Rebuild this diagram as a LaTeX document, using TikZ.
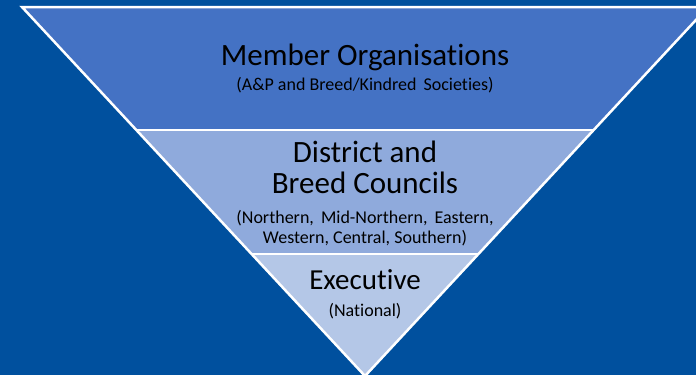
\documentclass[tikz,border=0pt]{standalone}
\usepackage{fontspec}
\setmainfont{Carlito}[Ligatures=NoCommon]
\usepackage{tikz}
\usetikzlibrary{positioning,calc}
\definecolor{navy}{RGB}{0,80,158}
\definecolor{bandtop}{RGB}{68,114,196}
\definecolor{bandmid}{RGB}{143,170,220}
\definecolor{bandlow}{RGB}{180,199,231}

\begin{document}
\begin{tikzpicture}[x=1pt, y=-1pt,
  edge/.style={draw=white, line width=2.5pt, line join=miter},
  head/.style={font=\fontsize{31}{31}\selectfont, anchor=base, inner sep=0pt},
  sub/.style={font=\fontsize{18}{20}\selectfont, anchor=base, inner sep=0pt}
]
  \useasboundingbox (0,0) rectangle (696,375);
  \fill[navy] (0,0) rectangle (696,375);

  \begin{scope}
    \clip (0,0) rectangle (696,375);
    % corners of the triangle and of its bands
    \coordinate (tl) at (22,7);
    \coordinate (tr) at (708,7);
    \coordinate (ap) at (365,376);
    \coordinate (ml) at (136.3,130);
    \coordinate (mr) at (593.7,130);
    \coordinate (ll) at (251.6,254);
    \coordinate (lr) at (478.4,254);

    \fill[bandtop] (tl) -- (tr) -- (mr) -- (ml) -- cycle;
    \fill[bandmid] (ml) -- (mr) -- (lr) -- (ll) -- cycle;
    \fill[bandlow] (ll) -- (lr) -- (ap) -- cycle;

    \draw[edge] (tl) -- (tr) -- (ap) -- cycle;
    \draw[edge] (ml) -- (mr);
    \draw[edge] (ll) -- (lr);
  \end{scope}

  \node[head] (member) at (365,65) {Member Organisations};
  \node[sub]  (socs)   at (365,90) {(A\&P and Breed/Kindred\, Societies)};

  \node[head] (district) at (365,162) {District and};
  \node[head] (councils) at (365,193) {Breed Councils};
  \node[sub]  (north)    at (365,223) {(Northern,\, Mid-Northern,\, Eastern,};
  \node[sub]  (west)     at (365,243) {Western, Central, Southern)};

  \node[head, font=\fontsize{29}{29}\selectfont] (exec) at (365,289) {Executive};
  \node[sub]  (natl) at (365,316) {(National)};
\end{tikzpicture}
\end{document}
